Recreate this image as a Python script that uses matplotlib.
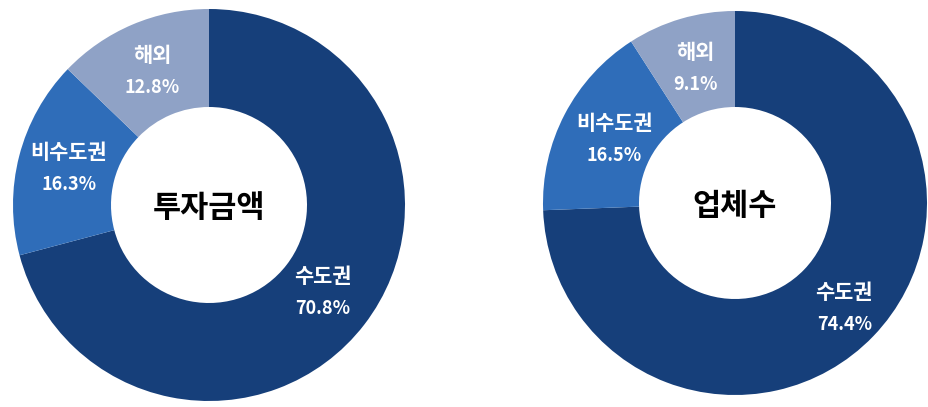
import numpy as np
import matplotlib.pyplot as plt

plt.rcParams['font.family'] = ['Noto Sans CJK KR', 'DejaVu Sans']

# 데이터
regions = ["수도권", "비수도권", "해외"]
invest_share = [70.8, 16.3, 12.8]
company_share = [74.4, 16.5, 9.1]
titles = ["투자금액", "업체수"]
colors = ["#163f7a", "#2f6db9", "#8fa2c6"]

fig = plt.figure(figsize=(9.29, 4.07), dpi=100)
ax = fig.add_axes([0, 0, 1, 1])

charts = [
    (invest_share, (209, 202), 196, [0.73, 0.74, 0.74]),
    (company_share, (735, 204), 192, [0.79, 0.71, 0.73]),
]

for (vals, c, R, ld), title in zip(charts, titles):
    wedges, _ = ax.pie(vals, colors=colors, startangle=90, counterclock=False,
                       center=c, radius=R, wedgeprops=dict(width=R*0.5, linewidth=0))
    for w, name, v, d in zip(wedges, regions, vals, ld):
        ang = np.deg2rad((w.theta1 + w.theta2) / 2)
        x = c[0] + d*R*np.cos(ang)
        y = c[1] + d*R*np.sin(ang)
        ax.text(x, y + 16, name, color="white", fontsize=15, fontweight="bold",
                ha="center", va="center")
        ax.text(x, y - 16, "%.1f%%" % v, color="white", fontsize=13, fontweight="bold",
                ha="center", va="center")
    ax.text(c[0], c[1] - 3, title, color="black", fontsize=22, fontweight="bold",
            ha="center", va="center")

ax.set_xlim(0, 929)
ax.set_ylim(0, 407)
ax.set_aspect("equal")
ax.axis("off")

plt.savefig("out.png", dpi=100)
